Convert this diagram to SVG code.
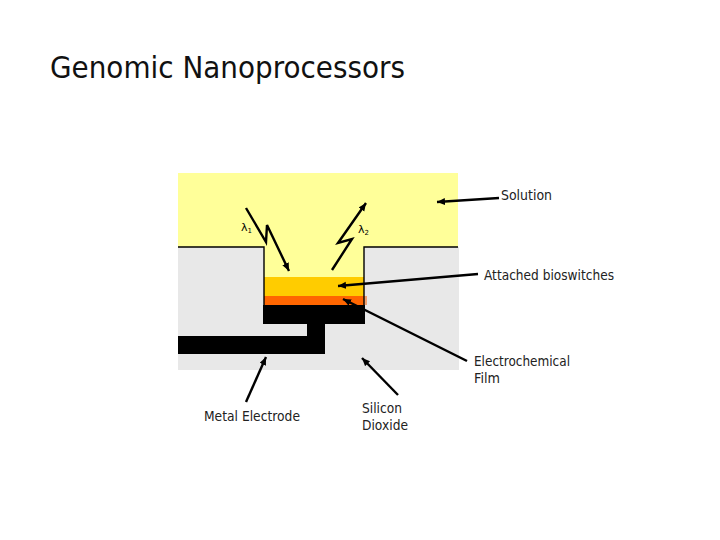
<svg xmlns="http://www.w3.org/2000/svg" width="720" height="540" viewBox="0 0 720 540">
<style>
text{font-family:"DejaVu Sans","Liberation Sans",sans-serif;fill:#222}
.l{font-size:13.5px}
.t{font-size:30px;fill:#111}
.g{font-size:11px;fill:#000}
.s{font-size:7px}
.c{fill:none;stroke:#000;stroke-width:2.4;stroke-linejoin:miter;marker-end:url(#a)}
.o{fill:none;stroke:#000;stroke-width:1.4}
</style>
<defs><marker id="a" markerUnits="userSpaceOnUse" markerWidth="9" markerHeight="8" refX="8" refY="3.5" orient="auto"><path d="M0 0L8 3.5L0 7Z" fill="#000"/></marker></defs>
<rect width="720" height="540" fill="#fff"/>
<text id="title" class="t" x="50" y="78" textLength="355" lengthAdjust="spacingAndGlyphs">Genomic Nanoprocessors</text>
<g id="silicon-dioxide"><rect x="178" y="247" width="281" height="123" fill="#e8e8e8"/></g>
<g id="solution"><path d="M178 173H458V247H364V277H264V247H178Z" fill="#ffff99"/></g>
<g id="bioswitches"><rect x="264" y="277" width="100" height="20" fill="#ffcc00"/></g>
<g id="film"><rect x="264" y="296" width="100" height="9" fill="#ff6600"/><rect x="364" y="296" width="3" height="9" fill="#f0a070"/></g>
<g id="electrode"><path d="M263 305H365V324H325V354H178V336H307V324H263Z" fill="#000"/></g>
<g id="outline"><path class="o" d="M178 247H264V305M458 247H364V305"/></g>
<g id="connectors">
<polyline class="c" points="246,208 266,242 267,225 289,271"/>
<polyline class="c" points="332,270 352,239 338,243 366,203"/>
<line class="c" x1="499" y1="198" x2="437" y2="202"/>
<line class="c" x1="478" y1="274" x2="338" y2="286"/>
<line class="c" x1="467" y1="361" x2="343" y2="299"/>
<line class="c" x1="398" y1="395" x2="362" y2="358"/>
<line class="c" x1="246" y1="402" x2="266" y2="357"/>
</g>
<g id="lambda1"><text class="g" x="241" y="231">λ<tspan class="s" dy="2">1</tspan></text></g>
<g id="lambda2"><text class="g" x="358" y="233">λ<tspan class="s" dy="2">2</tspan></text></g>
<g id="label-solution"><text class="l" x="501" y="200" textLength="51" lengthAdjust="spacingAndGlyphs">Solution</text></g>
<g id="label-bioswitches"><text class="l" x="484" y="280" textLength="130" lengthAdjust="spacingAndGlyphs">Attached bioswitches</text></g>
<g id="label-film"><text class="l" x="474" y="366" textLength="96" lengthAdjust="spacingAndGlyphs">Electrochemical</text><text class="l" x="474" y="383" textLength="26" lengthAdjust="spacingAndGlyphs">Film</text></g>
<g id="label-silicon"><text class="l" x="362" y="413" textLength="40" lengthAdjust="spacingAndGlyphs">Silicon</text><text class="l" x="362" y="430" textLength="46" lengthAdjust="spacingAndGlyphs">Dioxide</text></g>
<g id="label-metal"><text class="l" x="204" y="421" textLength="96" lengthAdjust="spacingAndGlyphs">Metal Electrode</text></g>
</svg>
